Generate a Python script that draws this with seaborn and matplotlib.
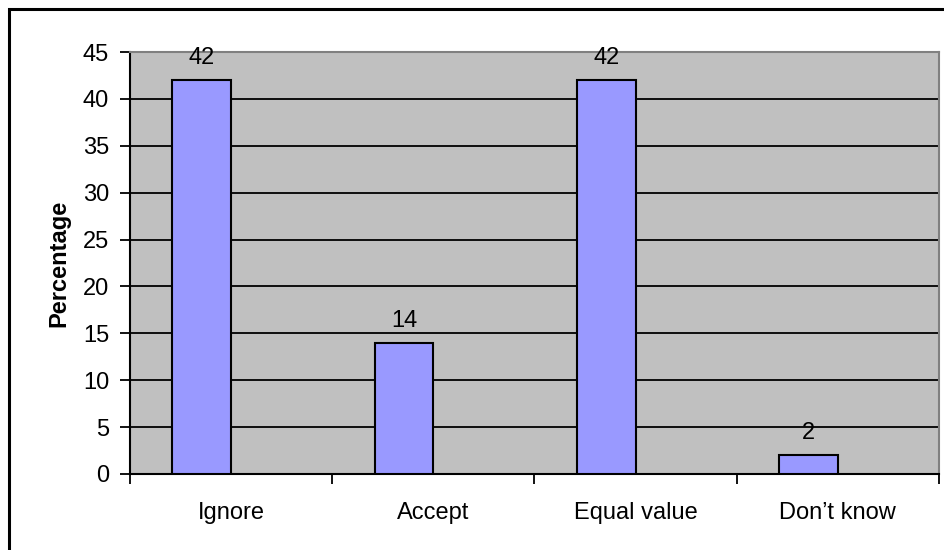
import matplotlib
matplotlib.use("Agg")
import matplotlib.pyplot as plt
import seaborn as sns
import pandas as pd
import numpy as np
from matplotlib.ticker import FixedLocator
from matplotlib.patches import Rectangle

categories = ["Ignore", "Accept", "Equal value", "Don\u2019t know"]
percentages = [42, 14, 42, 2]
y_ticks = [0, 5, 10, 15, 20, 25, 30, 35, 40, 45]

sns.set_theme(style="white")
plt.rcParams["font.family"] = ["Liberation Sans", "DejaVu Sans"]
plt.rcParams.update({"text.color": "black", "axes.labelcolor": "black",
                     "xtick.color": "black", "ytick.color": "black"})

# clustered layout: the chart has a second, empty series slot beside each bar
df = pd.DataFrame({
    "category": categories * 2,
    "percentage": percentages + [np.nan] * len(categories),
    "series": ["Percentage"] * len(categories) + ["(empty)"] * len(categories),
})

fig = plt.figure(figsize=(9.45, 5.5), dpi=100)
ax = fig.add_axes([130 / 945, 1 - 474 / 550, (939 - 130) / 945, (474 - 52) / 550])
ax.set_facecolor("#C0C0C0")

sns.barplot(data=df, x="category", y="percentage", hue="series",
            hue_order=["Percentage", "(empty)"], order=categories,
            palette={"Percentage": "#9999FF", "(empty)": "#9999FF"},
            ax=ax, width=0.58, dodge=True, gap=0, legend=False,
            edgecolor="black", linewidth=1.5, saturation=1, zorder=3)

ax.bar_label(ax.containers[0], labels=[str(v) for v in percentages], padding=8,
             fontsize=17, color="black")

ax.set_xlim(-0.5, 3.5)
ax.set_ylim(0, 45)
ax.set_yticks(y_ticks)
ax.yaxis.grid(True, color="black", linewidth=1.3, zorder=1)
ax.set_axisbelow(True)

ax.tick_params(axis="y", which="major", direction="out", length=7, width=1.3,
               color="black", labelsize=17, pad=8, left=True, labelcolor="black")
ax.tick_params(axis="x", which="major", length=0, labelsize=17, pad=20,
               labelcolor="black")
ax.xaxis.set_minor_locator(FixedLocator([-0.5, 0.5, 1.5, 2.5, 3.5]))
ax.tick_params(axis="x", which="minor", direction="out", length=7, width=1.3,
               color="black", bottom=True)

ax.set_xlabel("")
ax.set_ylabel("Percentage", fontsize=17, fontweight="bold", labelpad=9,
              color="black")

for side in ["left", "bottom"]:
    ax.spines[side].set_color("black")
    ax.spines[side].set_linewidth(1.5)
for side in ["top", "right"]:
    ax.spines[side].set_color("#808080")
    ax.spines[side].set_linewidth(1.5)
    ax.spines[side].set_visible(True)

# chart frame around the whole figure
fig.patches.append(Rectangle((9 / 945, -0.05), 1.1, 1 - 9 / 550 + 0.05,
                             transform=fig.transFigure, fill=False,
                             edgecolor="black", linewidth=2.2))

fig.savefig("out.png", dpi=100)
